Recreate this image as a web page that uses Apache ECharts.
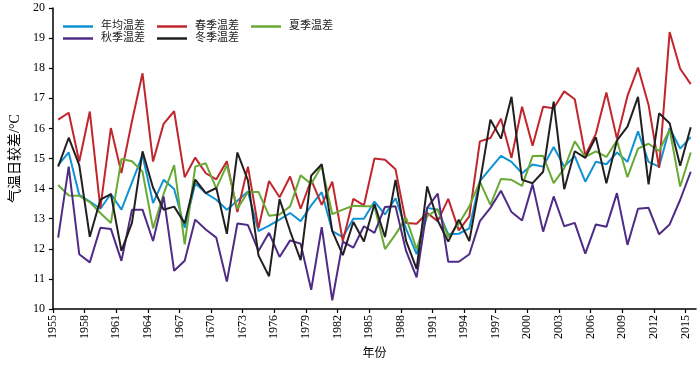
<!DOCTYPE html>
<html>
<head>
<meta charset="utf-8">
<script src="https://cdn.jsdelivr.net/npm/echarts@6/dist/echarts.min.js"></script>
<style>html,body{margin:0;padding:0;background:#fff;}#c{width:700px;height:365px;}</style>
</head>
<body>
<div id="c"></div>
<script>
var years = ['1955','1956','1957','1958','1959','1960','1961','1962','1963','1964',
'1965','1966','1967','1968','1969','1970','1971','1972','1973','1974',
'1975','1976','1977','1978','1979','1980','1981','1982','1983','1984',
'1985','1986','1987','1988','1989','1990','1991','1992','1993','1994',
'1995','1996','1997','1998','1999','2000','2001','2002','2003','2004',
'2005','2006','2007','2008','2009','2010','2011','2012','2013','2014','2015'];

var tickLabels = ['1955','1958','1961','1964','1967','1670','1673','1976','1979','1982','1985',
'1988','1991','1994','1997','2000','2003','2006','2009','2012','2015'];

var annual = [14.78,15.20,13.79,13.57,13.33,13.82,13.30,14.21,15.11,13.52,
14.29,13.99,12.70,14.18,13.85,13.63,13.30,13.60,13.90,12.59,
12.77,12.97,13.19,12.92,13.44,13.88,12.59,12.39,13.00,13.00,
13.57,13.14,13.68,12.66,11.82,13.36,13.30,12.48,12.50,12.68,
14.25,14.67,15.09,14.89,14.51,14.80,14.73,15.38,14.73,15.08,
14.23,14.89,14.81,15.20,14.89,15.90,14.89,14.73,16.01,15.33,15.71];

var spring = [16.29,16.52,14.90,16.56,13.35,16.01,14.52,16.24,17.83,14.90,
16.15,16.57,14.38,15.03,14.51,14.31,14.91,13.22,14.73,12.68,
14.25,13.71,14.40,13.33,14.29,13.46,14.23,12.26,13.66,13.44,
15.00,14.96,14.64,12.86,12.83,13.19,12.92,13.66,12.61,13.08,
15.57,15.68,16.32,15.02,16.72,15.42,16.72,16.67,17.23,16.97,
15.11,15.82,17.19,15.66,17.08,18.02,16.78,14.69,19.20,17.98,17.47];

var summer = [14.12,13.77,13.76,13.55,13.19,12.86,14.98,14.91,14.56,12.68,
13.82,14.78,12.15,14.73,14.84,14.01,14.78,13.33,13.89,13.89,
13.10,13.14,13.41,14.44,14.15,14.76,13.15,13.30,13.43,13.41,
13.41,11.99,12.48,13.03,11.99,13.08,13.32,12.39,12.83,13.41,
14.23,13.46,14.32,14.29,14.09,15.08,15.09,14.18,14.67,15.57,
15.05,15.24,15.05,15.60,14.38,15.33,15.49,15.25,15.96,14.07,15.20];

var autumn = [12.37,14.73,11.82,11.55,12.70,12.66,11.60,13.30,13.30,12.26,
13.74,11.27,11.60,12.97,12.64,12.37,10.91,12.84,12.79,11.93,
12.53,11.73,12.28,12.17,10.64,12.72,10.29,12.24,12.04,12.75,
12.53,13.39,13.41,11.93,11.05,13.36,13.83,11.57,11.57,11.82,
12.92,13.36,13.93,13.22,12.94,14.14,12.57,13.74,12.75,12.86,
11.84,12.81,12.73,13.85,12.13,13.33,13.36,12.48,12.81,13.63,14.56];

var winter = [14.73,15.69,14.78,12.40,13.63,13.82,11.93,12.86,15.24,14.03,
13.30,13.40,12.85,14.30,13.85,14.02,12.50,15.20,14.27,11.78,
11.09,13.65,12.59,11.62,14.43,14.81,12.59,11.79,12.89,12.24,
13.49,12.39,14.29,12.26,11.33,14.07,12.94,12.24,12.97,12.26,
14.20,16.29,15.66,17.05,14.29,14.18,14.56,16.89,13.98,15.24,
15.02,15.71,14.18,15.60,16.06,17.05,14.14,16.50,16.17,14.76,16.04];

var names = ['年均温差','春季温差','夏季温差','秋季温差','冬季温差'];
var colors = ['#1093d3','#c0272d','#68aa35','#4e2c86','#231f20'];
var seriesData = [annual, spring, summer, autumn, winter];

var FONT = "'Liberation Serif', 'Noto Sans CJK SC', serif";

var tickValues = [];
for (var k = 0; k < tickLabels.length; k++) tickValues.push(k * 3);

var chart = echarts.init(document.getElementById('c'), null, {renderer: 'canvas'});

var series = names.map(function (n, i) {
  return {
    name: n,
    type: 'line',
    xAxisIndex: 0,
    yAxisIndex: 0,
    data: seriesData[i],
    symbol: 'none',
    smooth: false,
    lineStyle: {color: colors[i], width: 2},
    itemStyle: {color: colors[i]},
    emphasis: {disabled: true},
    animation: false
  };
});

var legendCommon = {
  left: 58,
  orient: 'horizontal',
  icon: 'rect',
  itemWidth: 30,
  itemHeight: 2.5,
  itemGap: 12,
  textStyle: {fontSize: 11, fontFamily: FONT, color: '#222', padding: [0, 0, 0, 3]}
};

chart.setOption({
  animation: false,
  backgroundColor: '#fff',
  grid: {left: 41, right: 4, top: 8, bottom: 53},
  legend: [
    Object.assign({}, legendCommon, {top: 16, data: names.slice(0, 3)}),
    Object.assign({}, legendCommon, {top: 28, data: names.slice(3)})
  ],
  xAxis: [
    {
      type: 'category',
      data: years,
      boundaryGap: true,
      show: false
    },
    {
      type: 'value',
      min: 0,
      max: years.length,
      interval: 3,
      position: 'bottom',
      name: '年份',
      nameLocation: 'middle',
      nameGap: 39,
      nameTextStyle: {fontSize: 12, fontFamily: FONT, color: '#000'},
      axisLine: {show: true, onZero: false, lineStyle: {color: '#000', width: 1.5}},
      axisTick: {show: true, inside: false, length: 4, customValues: tickValues, lineStyle: {color: '#000', width: 1.2}},
      axisLabel: {
        show: true, rotate: 90, margin: 6, fontSize: 12, fontFamily: FONT, color: '#000',
        customValues: tickValues,
        formatter: function (v) { var idx = Math.round(v / 3); return tickLabels[idx] || ''; }
      },
      splitLine: {show: false}
    }
  ],
  yAxis: {
    type: 'value',
    min: 10,
    max: 20,
    interval: 1,
    name: '气温日较差/°C',
    nameLocation: 'middle',
    nameGap: 28,
    nameTextStyle: {fontSize: 14, fontFamily: FONT, color: '#000'},
    axisLine: {show: true, lineStyle: {color: '#000', width: 1.5}},
    axisTick: {show: true, inside: false, length: 4, lineStyle: {color: '#000', width: 1.2}},
    axisLabel: {fontSize: 12, fontFamily: FONT, color: '#000', margin: 8},
    splitLine: {show: false}
  },
  series: series
});
</script>
</body>
</html>
